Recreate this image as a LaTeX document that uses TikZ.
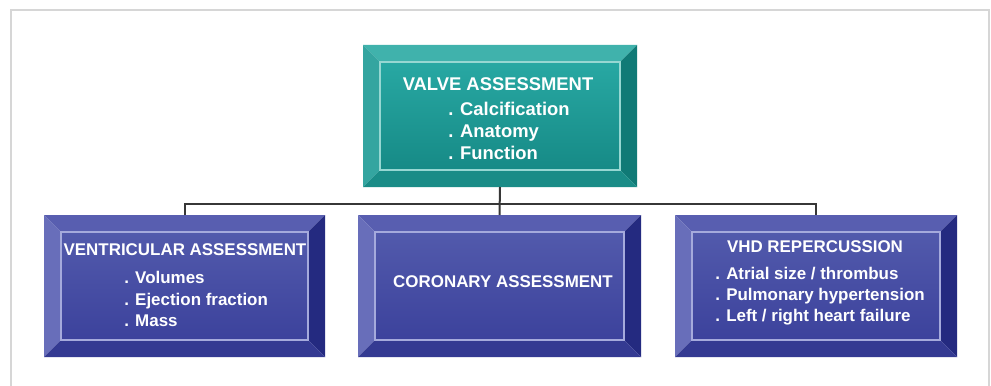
\documentclass[tikz,border=0pt]{standalone}
\usepackage{fontspec}
\setmainfont{Liberation Sans}
\usetikzlibrary{positioning}
\definecolor{frameGray}{RGB}{214,214,214}
\definecolor{linkGray}{RGB}{55,55,55}
\definecolor{tealTopColor}{RGB}{64,178,172}
\definecolor{tealLeftColor}{RGB}{52,165,160}
\definecolor{tealRightColor}{RGB}{16,122,118}
\definecolor{tealBottomColor}{RGB}{26,140,135}
\definecolor{tealFaceTop}{RGB}{40,168,163}
\definecolor{tealFaceMid}{RGB}{24,148,143}
\definecolor{tealFaceBottom}{RGB}{22,138,134}
\definecolor{tealEdge}{RGB}{150,215,210}
\definecolor{blueTopColor}{RGB}{88,94,176}
\definecolor{blueLeftColor}{RGB}{104,110,186}
\definecolor{blueRightColor}{RGB}{36,42,128}
\definecolor{blueBottomColor}{RGB}{52,58,146}
\definecolor{blueFaceTop}{RGB}{82,90,172}
\definecolor{blueFaceMid}{RGB}{52,60,152}
\definecolor{blueFaceBottom}{RGB}{60,66,156}
\definecolor{blueEdge}{RGB}{165,170,220}
\tikzstyle{boxBody} = [rectangle, inner sep=0pt, outer sep=0pt]
\tikzstyle{tealTop} = [fill=tealTopColor]
\tikzstyle{tealLeft} = [fill=tealLeftColor]
\tikzstyle{tealRight} = [fill=tealRightColor]
\tikzstyle{tealBottom} = [fill=tealBottomColor]
\tikzstyle{tealFace} = [top color=tealFaceTop, middle color=tealFaceMid, bottom color=tealFaceBottom, draw=tealEdge, line width=1pt]
\tikzstyle{blueTop} = [fill=blueTopColor]
\tikzstyle{blueLeft} = [fill=blueLeftColor]
\tikzstyle{blueRight} = [fill=blueRightColor]
\tikzstyle{blueBottom} = [fill=blueBottomColor]
\tikzstyle{blueFace} = [top color=blueFaceTop, middle color=blueFaceMid, bottom color=blueFaceBottom, draw=blueEdge, line width=1pt]
\tikzstyle{titleText} = [text=white, inner sep=0pt, font=\bfseries\fontsize{13.8}{16.5}\selectfont]
\tikzstyle{itemText} = [text=white, inner sep=0pt, align=left, anchor=west, font=\bfseries\fontsize{13.8}{16.5}\selectfont]
\tikzstyle{smallTitle} = [titleText, font=\bfseries\fontsize{12.7}{15.8}\selectfont]
\tikzstyle{smallItems} = [itemText, font=\bfseries\fontsize{12.7}{15.8}\selectfont]
\tikzstyle{linkLine} = [color=linkGray, line width=1.5pt]
\tikzstyle{frameLine} = [color=frameGray, line width=2.2pt]
\newcommand{\pxUnit}{0.75pt}
\newcommand{\bev}{12.75pt}
% #1 name, #2 x, #3 y, #4 width, #5 height, #6 palette
\newcommand{\bevelBox}[6]{
  \node [boxBody, minimum width=#4*\pxUnit, minimum height=#5*\pxUnit] (#1) at (#2,#3) {};
  \fill [#6Top] (#1.north west) -- (#1.north east) -- ([xshift=-\bev, yshift=-\bev]#1.north east) -- ([xshift=\bev, yshift=-\bev]#1.north west) -- cycle;
  \fill [#6Left] (#1.north west) -- ([xshift=\bev, yshift=-\bev]#1.north west) -- ([xshift=\bev, yshift=\bev]#1.south west) -- (#1.south west) -- cycle;
  \fill [#6Right] (#1.north east) -- ([xshift=-\bev, yshift=-\bev]#1.north east) -- ([xshift=-\bev, yshift=\bev]#1.south east) -- (#1.south east) -- cycle;
  \fill [#6Bottom] (#1.south west) -- ([xshift=\bev, yshift=\bev]#1.south west) -- ([xshift=-\bev, yshift=\bev]#1.south east) -- (#1.south east) -- cycle;
  \shade [#6Face] ([xshift=\bev, yshift=-\bev]#1.north west) rectangle ([xshift=-\bev, yshift=\bev]#1.south east);
}

\begin{document}
\begin{tikzpicture}[x=0.75pt, y=-0.75pt]
  \useasboundingbox [fill=white] (0,0) rectangle (991,385);
  \draw [frameLine] (11,400) -- (11,10) -- (989,10) -- (989,400);

  \bevelBox{valve}{500}{116}{274}{142}{teal}
  \bevelBox{ventricular}{184.5}{286}{281}{142}{blue}
  \bevelBox{coronary}{499.5}{286}{283}{142}{blue}
  \bevelBox{repercussion}{816}{286}{282}{142}{blue}

  % tree connectors
  \draw [linkLine] (valve.south) -- (coronary.north);
  \draw [linkLine] (ventricular.north) -- ++(0,-11) -| (repercussion.north);

  \node [titleText] (valveTitle) at (498,84) {VALVE ASSESSMENT};
  \node [itemText] (valveItems) at (448,131) {. Calcification\\. Anatomy\\. Function};

  \node [smallTitle] (ventricularTitle) at (185,250) {VENTRICULAR ASSESSMENT};
  \node [smallItems] (ventricularItems) at (124,299) {. Volumes\\. Ejection fraction\\. Mass};

  \node [smallTitle] (coronaryTitle) at (503,282) {CORONARY ASSESSMENT};

  \node [smallTitle] (repercussionTitle) at (815,247) {VHD REPERCUSSION};
  \node [smallItems] (repercussionItems) at (715,296) {. Atrial size / thrombus\\. Pulmonary hypertension\\. Left / right heart failure};
\end{tikzpicture}
\end{document}
